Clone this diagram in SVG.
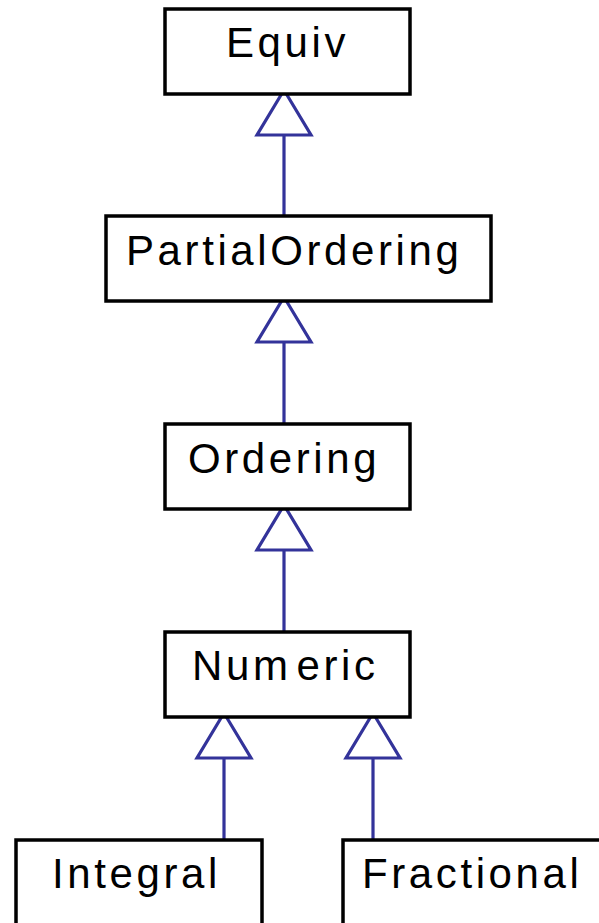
<svg xmlns="http://www.w3.org/2000/svg" xmlns:xlink="http://www.w3.org/1999/xlink" width="599" height="923" viewBox="0 0 599 923">
<style>
.box{fill:#fff;stroke:#000;stroke-width:3.5}
.lbl{font-family:"Liberation Sans",Arial,sans-serif;font-size:42px;letter-spacing:3.6px;fill:#000}
.con{fill:none;stroke:#33339a;stroke-width:3.2}
.tri{fill:#fff;stroke:#33339a;stroke-width:3.2}
</style>
<defs>
<polygon id="head" points="0,0 -27,45 27,45"/>
</defs>
<rect width="599" height="923" fill="#fff"/>
<g id="connectors">
<line class="con" x1="284" y1="135" x2="284" y2="216"/>
<use xlink:href="#head" class="tri" x="284" y="90"/>
<line class="con" x1="284" y1="342" x2="284" y2="424"/>
<use xlink:href="#head" class="tri" x="284" y="297"/>
<line class="con" x1="284" y1="550" x2="284" y2="632"/>
<use xlink:href="#head" class="tri" x="284" y="505"/>
<line class="con" x1="224" y1="758" x2="224" y2="840"/>
<use xlink:href="#head" class="tri" x="224" y="713"/>
<line class="con" x1="373" y1="758" x2="373" y2="840"/>
<use xlink:href="#head" class="tri" x="373" y="713"/>
</g>
<g id="equiv"><rect class="box" x="165" y="9" width="245" height="85"/><text class="lbl" x="226" y="57">Equiv</text></g>
<g id="partialordering"><rect class="box" x="106" y="216" width="385" height="85"/><text class="lbl" x="126" y="265">PartialOrdering</text></g>
<g id="ordering"><rect class="box" x="165" y="424" width="245" height="85"/><text class="lbl" x="188" y="473">Ordering</text></g>
<g id="numeric"><rect class="box" x="165" y="632" width="245" height="85"/><text class="lbl" x="192" y="680">Num<tspan dx="5">eric</tspan></text></g>
<g id="integral"><rect class="box" x="16" y="840" width="246" height="95"/><text class="lbl" x="52" y="888">Integral</text></g>
<g id="fractional"><rect class="box" x="343" y="840" width="270" height="95"/><text class="lbl" x="362" y="888">Fractional</text></g>
</svg>
